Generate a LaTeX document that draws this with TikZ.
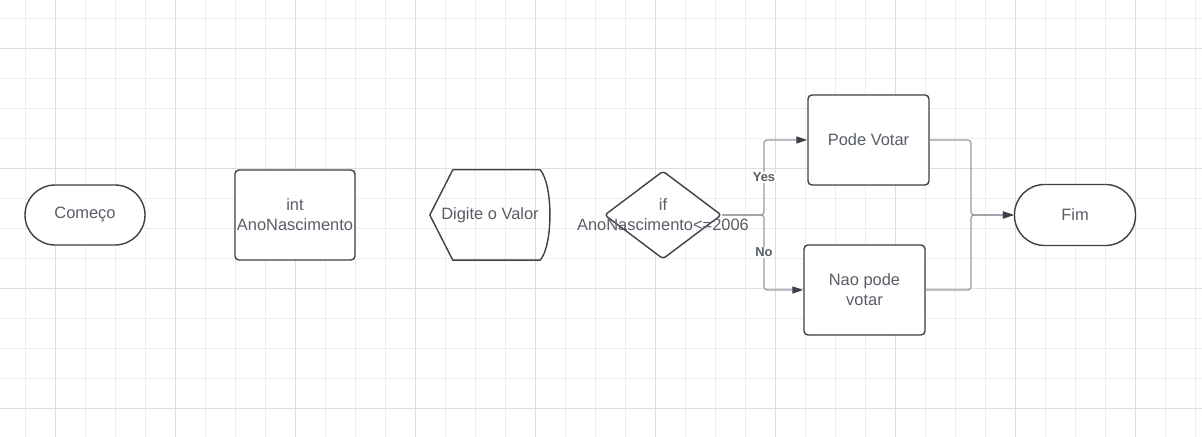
\documentclass[tikz,border=0pt]{standalone}
\usepackage{fontspec}
\setmainfont{Liberation Sans}
\usetikzlibrary{shapes.geometric}
\usetikzlibrary{arrows.meta}

\definecolor{shapeline}{RGB}{58,65,74}
\definecolor{shapetext}{RGB}{88,93,102}
\definecolor{linkline}{RGB}{150,153,158}
\definecolor{gridminor}{RGB}{237,237,237}
\definecolor{gridmajor}{RGB}{221,221,221}

\tikzset{
	every node/.style={text=shapetext, font=\fontsize{16.5}{20}\selectfont},
	terminal/.style={draw=shapeline, line width=1.4bp, fill=white, rounded corners=30bp, minimum width=120bp, minimum height=60bp, inner sep=0pt},
	process/.style={draw=shapeline, line width=1.4bp, fill=white, rounded corners=4bp, minimum width=120bp, minimum height=90bp, inner sep=0pt, align=center},
	decision/.style={diamond, draw=shapeline, line width=1.4bp, fill=white, rounded corners=3bp, minimum width=117bp, minimum height=88bp, inner sep=0pt},
	link/.style={draw=linkline, line width=1.2bp, rounded corners=3bp, -{Triangle[length=11bp, width=7bp, color=shapeline]}},
	branch/.style={fill=white, inner sep=1bp, font=\fontsize{13}{15}\selectfont\bfseries},
}

\begin{document}
\begin{tikzpicture}[x=1bp, y=-1bp]

	%picture size, in pixels of the reference
	\def\picW{1202}
	\def\picH{437}
	\useasboundingbox (0,0) rectangle (\picW,\picH);

	%background grid, light lines every 30 and darker lines every 120
	\foreach \gx in {25,55,...,1195}
		\draw[gridminor, line width=1bp] (\gx,0) -- (\gx,\picH);
	\foreach \gy in {19,49,...,439}
		\draw[gridminor, line width=1bp] (0,\gy) -- (\picW,\gy);
	\foreach \gx in {55,175,...,1135}
		\draw[gridmajor, line width=1bp] (\gx,0) -- (\gx,\picH);
	\foreach \gy in {49,169,289,409}
		\draw[gridmajor, line width=1bp] (0,\gy) -- (\picW,\gy);

	%flowchart shapes
	\node[terminal] (comeco) at (85,215) {Começo};
	\node[process] (decl) at (295,215) {int\\AnoNascimento};
	%input shape, outline drawn round the node
	\node[minimum width=120bp, minimum height=90bp, inner sep=0pt] (entrada) at (490,215) {Digite o Valor};
	\draw[shapeline, line width=1.4bp, line join=round] (entrada.west) -- ([xshift=23bp]entrada.north west) -- ([xshift=-10bp]entrada.north east) .. controls ([xshift=3bp, yshift=-15bp]entrada.north east) and ([xshift=3bp, yshift=15bp]entrada.south east) .. ([xshift=-10bp]entrada.south east) -- ([xshift=23bp]entrada.south west) -- cycle;
	\node[decision] (cond) at (663,215) {};
	\node[align=center] (condtext) at (cond.center) {if\\AnoNascimento<=2006};
	\node[process, minimum width=121bp] (pode) at (868.5,140) {Pode Votar};
	\node[process, minimum width=121bp] (naopode) at (864.5,290) {Nao pode\\votar};
	\node[terminal, minimum width=121bp, minimum height=61bp] (fim) at (1075,215) {Fim};

	%split and join points of the connectors
	\coordinate (split) at (764,215);
	\coordinate (join) at (971,215);

	%connectors
	\draw[link] (cond.east) -- (split) |- node[branch, pos=0.25] {Yes} (pode.west);
	\draw[link] (cond.east) -- (split) |- node[branch, pos=0.25] {No} (naopode.west);
	\draw[link] (pode.east) -| (join) -- (fim.west);
	\draw[link] (naopode.east) -| (join) -- (fim.west);

\end{tikzpicture}
\end{document}
